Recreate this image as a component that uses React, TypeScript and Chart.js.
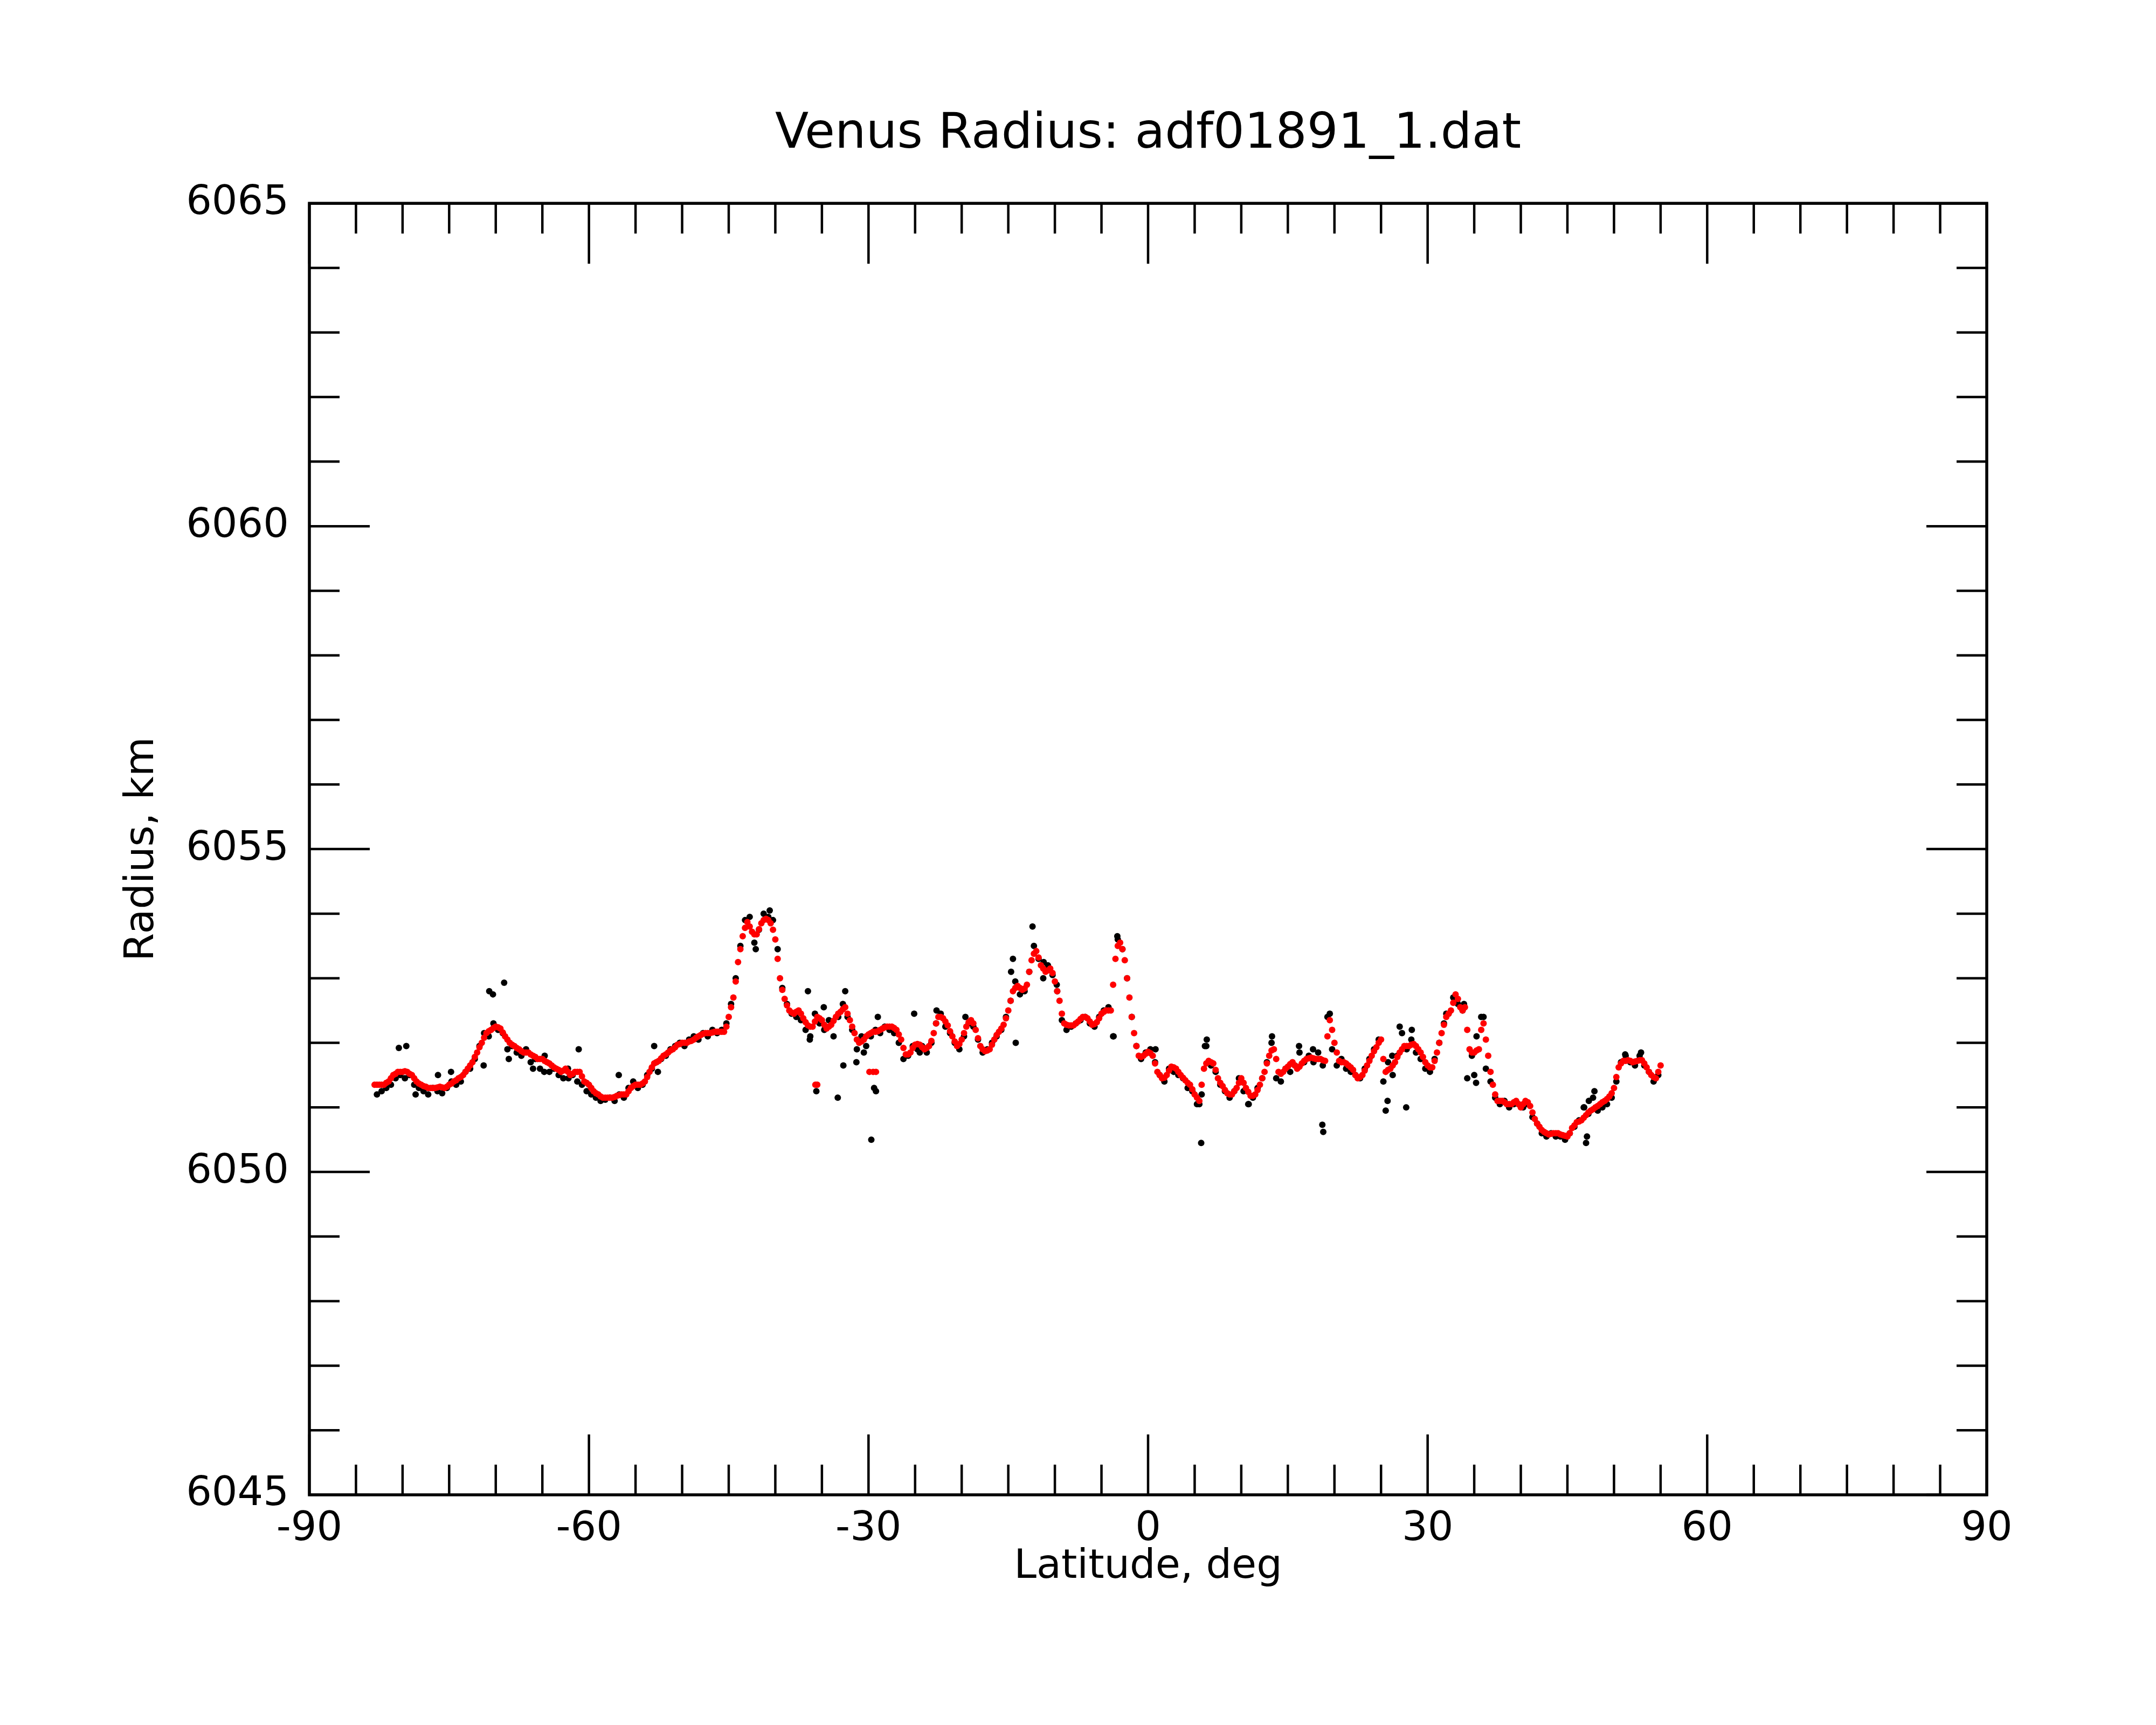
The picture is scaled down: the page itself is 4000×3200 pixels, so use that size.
import { useEffect, useRef } from 'react';
import { Chart, registerables } from 'chart.js';

Chart.register(...registerables);

// smoothed radius (red), read every 0.5 deg from -83 and again at the quarter degrees from -82.75
const FIT_LAT0 = -83;
const FIT_Q_LAT0 = -82.75;
// raw radius (black), every 0.5 deg starting at -82.75
const RAW_LAT0 = -82.75;
const LAT_STEP = 0.5;

const fitRadius = [
	6051.35, 6051.35, 6051.35, 6051.4, 6051.5, 6051.55, 6051.55, 6051.55, 6051.5, 6051.4,
	6051.35, 6051.32, 6051.3, 6051.3, 6051.32, 6051.3, 6051.35, 6051.4, 6051.45, 6051.5,
	6051.6, 6051.7, 6051.85, 6052.0, 6052.15, 6052.2, 6052.25, 6052.22, 6052.1, 6052.0,
	6051.95, 6051.9, 6051.85, 6051.85, 6051.8, 6051.75, 6051.75, 6051.7, 6051.65, 6051.6,
	6051.55, 6051.6, 6051.5, 6051.55, 6051.55, 6051.4, 6051.35, 6051.25, 6051.2, 6051.15,
	6051.15, 6051.15, 6051.18, 6051.2, 6051.2, 6051.3, 6051.35, 6051.35, 6051.4, 6051.55,
	6051.68, 6051.72, 6051.8, 6051.85, 6051.9, 6051.97, 6052.0, 6052.0, 6052.03, 6052.08,
	6052.12, 6052.15, 6052.15, 6052.17, 6052.17, 6052.17, 6052.4, 6052.7, 6053.25, 6053.65,
	6053.87, 6053.72, 6053.68, 6053.85, 6053.92, 6053.85, 6053.6, 6053.0, 6052.68, 6052.5,
	6052.45, 6052.5, 6052.38, 6052.27, 6052.25, 6052.4, 6052.35, 6052.22, 6052.28, 6052.4,
	6052.48, 6052.55, 6052.35, 6052.15, 6052.0, 6052.05, 6052.13, 6052.17, 6052.18, 6052.22,
	6052.25, 6052.25, 6052.2, 6052.05, 6051.82, 6051.85, 6051.97, 6051.97, 6051.9, 6051.95,
	6052.15, 6052.4, 6052.38, 6052.27, 6052.1, 6051.95, 6052.05, 6052.25, 6052.35, 6052.2,
	6051.95, 6051.87, 6051.9, 6052.05, 6052.17, 6052.28, 6052.5, 6052.8, 6052.88, 6052.82,
	6052.9, 6053.28, 6053.42, 6053.2, 6053.1, 6053.15, 6052.95, 6052.65, 6052.3, 6052.27,
	6052.27, 6052.33, 6052.4, 6052.38, 6052.28, 6052.32, 6052.45, 6052.5, 6052.5, 6053.3,
	6053.55, 6053.28, 6052.7, 6052.15, 6051.8, 6051.8, 6051.86, 6051.8, 6051.55, 6051.45,
	6051.5, 6051.63, 6051.6, 6051.5, 6051.42, 6051.35, 6051.2, 6051.1, 6051.6, 6051.72,
	6051.68, 6051.45, 6051.33, 6051.22, 6051.2, 6051.3, 6051.45, 6051.3, 6051.18, 6051.2,
	6051.35, 6051.55, 6051.8, 6051.9, 6051.55, 6051.55, 6051.63, 6051.7, 6051.6, 6051.68,
	6051.75, 6051.77, 6051.75, 6051.75, 6051.72, 6052.35, 6052.0, 6051.72, 6051.7, 6051.65,
	6051.58, 6051.45, 6051.5, 6051.65, 6051.8, 6051.93, 6052.05, 6051.55, 6051.6, 6051.7,
	6051.85, 6051.95, 6051.95, 6051.98, 6051.9, 6051.78, 6051.65, 6051.62, 6051.85, 6052.15,
	6052.4, 6052.5, 6052.75, 6052.55, 6052.55, 6051.9, 6051.85, 6051.9, 6052.3, 6051.8,
	6051.35, 6051.1, 6051.1, 6051.05, 6051.05, 6051.1, 6051.0, 6051.1, 6051.02, 6050.82,
	6050.7, 6050.62, 6050.58, 6050.6, 6050.6, 6050.57, 6050.55, 6050.68, 6050.77, 6050.8,
	6050.88, 6050.95, 6051.0, 6051.05, 6051.1, 6051.17, 6051.3, 6051.62, 6051.72, 6051.73,
	6051.7, 6051.72, 6051.73, 6051.62, 6051.5, 6051.45, 6051.65,
];

const fitRadiusQuarter = [
	6051.35, 6051.35, 6051.38, 6051.45, 6051.52, 6051.55, 6051.56, 6051.52, 6051.45, 6051.37,
	6051.33, 6051.3, 6051.3, 6051.31, 6051.31, 6051.32, 6051.37, 6051.42, 6051.47, 6051.55,
	6051.65, 6051.78, 6051.93, 6052.08, 6052.18, 6052.23, 6052.24, 6052.16, 6052.05, 6051.97,
	6051.92, 6051.87, 6051.85, 6051.82, 6051.78, 6051.75, 6051.72, 6051.68, 6051.62, 6051.58,
	6051.57, 6051.55, 6051.52, 6051.55, 6051.48, 6051.38, 6051.3, 6051.22, 6051.17, 6051.15,
	6051.15, 6051.16, 6051.19, 6051.2, 6051.25, 6051.33, 6051.35, 6051.37, 6051.47, 6051.62,
	6051.7, 6051.76, 6051.82, 6051.88, 6051.93, 6051.98, 6052.0, 6052.02, 6052.05, 6052.1,
	6052.14, 6052.15, 6052.16, 6052.17, 6052.17, 6052.25, 6052.55, 6052.95, 6053.45, 6053.78,
	6053.8, 6053.68, 6053.76, 6053.9, 6053.9, 6053.75, 6053.3, 6052.82, 6052.58, 6052.47,
	6052.48, 6052.45, 6052.32, 6052.25, 6052.33, 6052.38, 6052.28, 6052.25, 6052.34, 6052.45,
	6052.52, 6052.45, 6052.25, 6052.05, 6052.02, 6052.1, 6052.15, 6052.17, 6052.2, 6052.24,
	6052.25, 6052.23, 6052.13, 6051.92, 6051.82, 6051.92, 6051.98, 6051.93, 6051.92, 6052.03,
	6052.3, 6052.4, 6052.33, 6052.18, 6052.02, 6051.98, 6052.15, 6052.32, 6052.3, 6052.07,
	6051.9, 6051.88, 6051.97, 6052.12, 6052.22, 6052.38, 6052.65, 6052.85, 6052.85, 6052.84,
	6053.1, 6053.38, 6053.32, 6053.15, 6053.12, 6053.08, 6052.8, 6052.45, 6052.28, 6052.27,
	6052.3, 6052.37, 6052.4, 6052.33, 6052.29, 6052.38, 6052.48, 6052.5, 6052.9, 6053.5,
	6053.45, 6053.0, 6052.4, 6051.95, 6051.78, 6051.83, 6051.84, 6051.68, 6051.5, 6051.46,
	6051.57, 6051.62, 6051.55, 6051.46, 6051.38, 6051.28, 6051.15, 6051.35, 6051.68, 6051.7,
	6051.58, 6051.38, 6051.27, 6051.2, 6051.25, 6051.38, 6051.38, 6051.24, 6051.18, 6051.27,
	6051.45, 6051.68, 6051.88, 6051.75, 6051.52, 6051.6, 6051.67, 6051.65, 6051.63, 6051.72,
	6051.76, 6051.76, 6051.75, 6051.73, 6052.1, 6052.2, 6051.85, 6051.7, 6051.68, 6051.62,
	6051.5, 6051.47, 6051.57, 6051.72, 6051.87, 6052.0, 6051.75, 6051.58, 6051.65, 6051.78,
	6051.9, 6051.95, 6051.97, 6051.95, 6051.85, 6051.7, 6051.62, 6051.72, 6052.0, 6052.28,
	6052.45, 6052.62, 6052.68, 6052.5, 6052.2, 6051.85, 6051.88, 6052.2, 6052.05, 6051.55,
	6051.2, 6051.1, 6051.08, 6051.05, 6051.08, 6051.05, 6051.05, 6051.08, 6050.92, 6050.75,
	6050.65, 6050.6, 6050.59, 6050.6, 6050.58, 6050.56, 6050.6, 6050.72, 6050.78, 6050.84,
	6050.92, 6050.97, 6051.02, 6051.08, 6051.13, 6051.22, 6051.47, 6051.68, 6051.72, 6051.72,
	6051.71, 6051.73, 6051.68, 6051.55, 6051.47, 6051.55,
];

const fitExtraLat = [-35.7, -35.5, -29.9, -29.5, -29.2];
const fitExtraRadius = [6051.35, 6051.35, 6051.55, 6051.55, 6051.55];

const rawRadius = [
	6051.2, 6051.25, 6051.3, 6051.35, 6051.45, 6051.5, 6051.45, 6051.5, 6051.35, 6051.3,
	6051.25, 6051.2, 6051.3, 6051.25, 6051.22, 6051.3, 6051.4, 6051.35, 6051.4, 6051.55,
	6051.6, 6051.75, 6051.95, 6052.15, 6052.1, 6052.3, 6052.2, 6052.15, 6051.9, 6051.95,
	6051.85, 6051.8, 6051.9, 6051.7, 6051.75, 6051.6, 6051.8, 6051.55, 6051.6, 6051.5,
	6051.45, 6051.6, 6051.5, 6051.4, 6051.35, 6051.25, 6051.2, 6051.15, 6051.1, 6051.12,
	6051.15, 6051.1, 6051.2, 6051.15, 6051.3, 6051.4, 6051.3, 6051.35, 6051.5, 6051.6,
	6051.7, 6051.75, 6051.8, 6051.9, 6051.95, 6052.0, 6051.95, 6052.05, 6052.1, 6052.05,
	6052.15, 6052.1, 6052.2, 6052.15, 6052.2, 6052.3, 6052.6, 6053.0, 6053.5, 6053.9,
	6053.95, 6053.55, 6053.75, 6054.0, 6053.95, 6053.9, 6053.45, 6052.85, 6052.6, 6052.45,
	6052.4, 6052.35, 6052.2, 6052.1, 6052.45, 6052.3, 6052.2, 6052.35, 6052.1, 6052.4,
	6052.6, 6052.4, 6052.2, 6051.9, 6052.1, 6051.95, 6052.1, 6052.2, 6052.15, 6052.25,
	6052.2, 6052.15, 6052.0, 6051.75, 6051.8, 6051.95, 6051.9, 6051.95, 6051.85, 6052.0,
	6052.3, 6052.45, 6052.25, 6052.15, 6052.0, 6051.9, 6052.1, 6052.3, 6052.25, 6052.05,
	6051.85, 6051.9, 6052.0, 6052.1, 6052.2, 6052.4, 6052.65, 6052.95, 6052.75, 6052.8,
	6053.1, 6053.5, 6053.3, 6053.0, 6053.2, 6053.05, 6052.8, 6052.35, 6052.2, 6052.25,
	6052.3, 6052.35, 6052.4, 6052.3, 6052.25, 6052.4, 6052.5, 6052.55, 6052.1, 6053.6,
	6053.45, 6053.0, 6052.4, 6051.95, 6051.75, 6051.85, 6051.9, 6051.7, 6051.5, 6051.4,
	6051.6, 6051.55, 6051.5, 6051.45, 6051.3, 6051.25, 6051.05, 6051.2, 6051.95, 6051.65,
	6051.55, 6051.35, 6051.25, 6051.15, 6051.25, 6051.45, 6051.25, 6051.05, 6051.15, 6051.3,
	6051.45, 6051.7, 6052.0, 6051.45, 6051.4, 6051.6, 6051.55, 6051.65, 6051.85, 6051.7,
	6051.8, 6051.7, 6051.85, 6051.65, 6052.4, 6051.9, 6051.65, 6051.75, 6051.6, 6051.55,
	6051.5, 6051.45, 6051.6, 6051.75, 6051.9, 6052.05, 6051.4, 6051.7, 6051.5, 6051.8,
	6052.15, 6051.9, 6052.05, 6051.85, 6051.75, 6051.6, 6051.55, 6051.75, 6052.0, 6052.3,
	6052.45, 6052.7, 6052.6, 6052.5, 6051.45, 6051.8, 6052.1, 6052.4, 6051.6, 6051.4,
	6051.15, 6051.05, 6051.1, 6051.0, 6051.05, 6051.05, 6051.0, 6051.05, 6050.85, 6050.75,
	6050.6, 6050.55, 6050.6, 6050.55, 6050.55, 6050.5, 6050.6, 6050.7, 6050.8, 6051.0,
	6050.9, 6051.15, 6050.95, 6051.0, 6051.05, 6051.15, 6051.4, 6051.7, 6051.8, 6051.7,
	6051.65, 6051.8, 6051.65, 6051.55, 6051.4, 6051.5,
];

const rawOutlierLat = [
	-80.4, -79.6, -78.6, -76.2, -74.8, -71.3, -70.7, -70.3, -69.1, -68.6,
	-66.0, -64.8, -62.2, -61.1, -56.8, -53.0, -52.6, -42.1, -40.6, -36.5,
	-36.3, -35.6, -34.8, -33.3, -32.7, -32.5, -31.3, -30.5, -29.7, -29.4,
	-29.2, -29.0, -25.1, -24.5, -22.7, -19.6, -14.5, -14.7, -14.2, -12.4,
	-11.2, -9.8, -3.7, -3.3, 0.8, 5.7, 5.5, 6.3, 6.1, 10.8,
	13.3, 16.2, 17.7, 18.7, 18.8, 19.5, 25.5, 25.7, 26.2, 27.0,
	27.7, 28.3, 32.0, 33.9, 35.0, 35.2, 36.0, 46.8, 47.0, 47.1,
	47.3, 47.9, 51.2, 52.9,
];
const rawOutlierRadius = [
	6051.92, 6051.95, 6051.2, 6051.5, 6051.55, 6051.65, 6052.8, 6052.75, 6052.93, 6051.75,
	6051.6, 6051.55, 6051.45, 6051.9, 6051.5, 6051.95, 6051.55, 6053.45, 6054.05, 6052.8,
	6052.05, 6051.25, 6052.55, 6051.15, 6051.65, 6052.8, 6051.7, 6051.85, 6050.5, 6051.3,
	6051.25, 6052.4, 6052.45, 6051.85, 6052.5, 6052.4, 6053.3, 6053.1, 6052.0, 6053.8,
	6053.25, 6052.9, 6052.1, 6053.65, 6051.9, 6050.45, 6051.05, 6052.05, 6051.95, 6051.05,
	6052.1, 6051.95, 6051.9, 6050.73, 6050.62, 6052.45, 6050.95, 6051.1, 6051.8, 6052.25,
	6051.0, 6052.2, 6052.45, 6052.6, 6051.5, 6051.38, 6052.4, 6051.0, 6050.45, 6050.55,
	6051.1, 6051.25, 6051.82, 6051.85,
];

const xMajor = [-90, -60, -30, 0, 30, 60, 90];
const yMajor = [6045, 6050, 6055, 6060, 6065];

const FONT = 'DejaVu Sans';

const frameTicks = {
	id: 'frameTicks',
	afterDatasetsDraw(chart: any) {
		const { ctx, chartArea, scales } = chart;
		const { left, right, top, bottom } = chartArea;
		ctx.save();
		ctx.strokeStyle = '#000';
		ctx.lineWidth = 4.5;
		ctx.beginPath();
		for (let v = -90; v <= 90; v += 5) {
			const px = scales.x.getPixelForValue(v);
			const len = v % 30 === 0 ? 112 : 56;
			ctx.moveTo(px, bottom);
			ctx.lineTo(px, bottom - len);
			ctx.moveTo(px, top);
			ctx.lineTo(px, top + len);
		}
		for (let v = 6045; v <= 6065; v += 1) {
			const py = scales.y.getPixelForValue(v);
			const len = v % 5 === 0 ? 112 : 56;
			ctx.moveTo(left, py);
			ctx.lineTo(left + len, py);
			ctx.moveTo(right, py);
			ctx.lineTo(right - len, py);
		}
		ctx.stroke();
		ctx.lineWidth = 5.5;
		ctx.strokeRect(left, top, right - left, bottom - top);
		ctx.restore();
	},
};

export default function App() {
	const canvasRef = useRef<HTMLCanvasElement | null>(null);
	const chartInstance = useRef<Chart | null>(null);

	useEffect(() => {
		const ctx = canvasRef.current?.getContext('2d');
		if (chartInstance.current) {
			chartInstance.current.destroy();
		}
		if (!ctx) return;

		const fitPoints = fitRadius.map((r, i) => ({ x: FIT_LAT0 + i * LAT_STEP, y: r }));
		fitRadiusQuarter.forEach((r, i) => fitPoints.push({ x: FIT_Q_LAT0 + i * LAT_STEP, y: r }));
		fitExtraLat.forEach((lat, i) => fitPoints.push({ x: lat, y: fitExtraRadius[i] }));
		const rawPoints = rawRadius.map((r, i) => ({ x: RAW_LAT0 + i * LAT_STEP, y: r }));
		rawOutlierLat.forEach((lat, i) => rawPoints.push({ x: lat, y: rawOutlierRadius[i] }));

		chartInstance.current = new Chart(ctx, {
			type: 'scatter',
			data: {
				datasets: [
					{
						label: 'fit',
						data: fitPoints,
						backgroundColor: '#ff0000',
						pointRadius: 6,
						pointBorderWidth: 0,
						order: 0,
					},
					{
						label: 'raw',
						data: rawPoints,
						backgroundColor: '#000000',
						pointRadius: 6,
						pointBorderWidth: 0,
						order: 1,
					},
				],
			},
			options: {
				responsive: false,
				animation: false,
				devicePixelRatio: 1,
				layout: { padding: { left: 0, right: 314, top: 0, bottom: 0 } },
				plugins: {
					legend: { display: false },
					tooltip: { enabled: false },
					title: {
						display: true,
						fullSize: false,
						text: 'Venus Radius: adf01891_1.dat',
						color: '#000',
						font: { family: FONT, size: 91, weight: 'normal', lineHeight: 1.2 },
						padding: { top: 196, bottom: 72 },
					},
				},
				scales: {
					x: {
						type: 'linear',
						min: -90,
						max: 90,
						grid: { display: false, drawTicks: false },
						border: { display: false },
						afterBuildTicks: (s: any) => {
							s.ticks = xMajor.map((v) => ({ value: v }));
						},
						afterFit: (s: any) => {
							s.height = 427;
						},
						ticks: {
							color: '#000',
							padding: 20,
							maxRotation: 0,
							autoSkip: false,
							font: { family: FONT, size: 75 },
						},
						title: {
							display: true,
							text: 'Latitude, deg',
							color: '#000',
							font: { family: FONT, size: 75, lineHeight: 1.2 },
							padding: { top: 0, bottom: 247 },
						},
					},
					y: {
						type: 'linear',
						min: 6045,
						max: 6065,
						grid: { display: false, drawTicks: false },
						border: { display: false },
						afterBuildTicks: (s: any) => {
							s.ticks = yMajor.map((v) => ({ value: v }));
						},
						afterFit: (s: any) => {
							s.width = 574;
						},
						ticks: {
							color: '#000',
							padding: 38,
							autoSkip: false,
							font: { family: FONT, size: 75 },
							callback: (v: any) => String(v),
						},
						title: {
							display: true,
							text: 'Radius, km',
							color: '#000',
							font: { family: FONT, size: 75, lineHeight: 1.2 },
							padding: { top: 220, bottom: 0 },
						},
					},
				},
			},
			plugins: [frameTicks],
		});

		return () => {
			if (chartInstance.current) {
				chartInstance.current.destroy();
				chartInstance.current = null;
			}
		};
	}, []);

	return (
		<div style={{ position: 'fixed', left: 0, top: 0, width: 4000, height: 3200, background: '#fff' }}>
			<canvas ref={canvasRef} width={4000} height={3200} style={{ display: 'block' }}></canvas>
		</div>
	);
}
